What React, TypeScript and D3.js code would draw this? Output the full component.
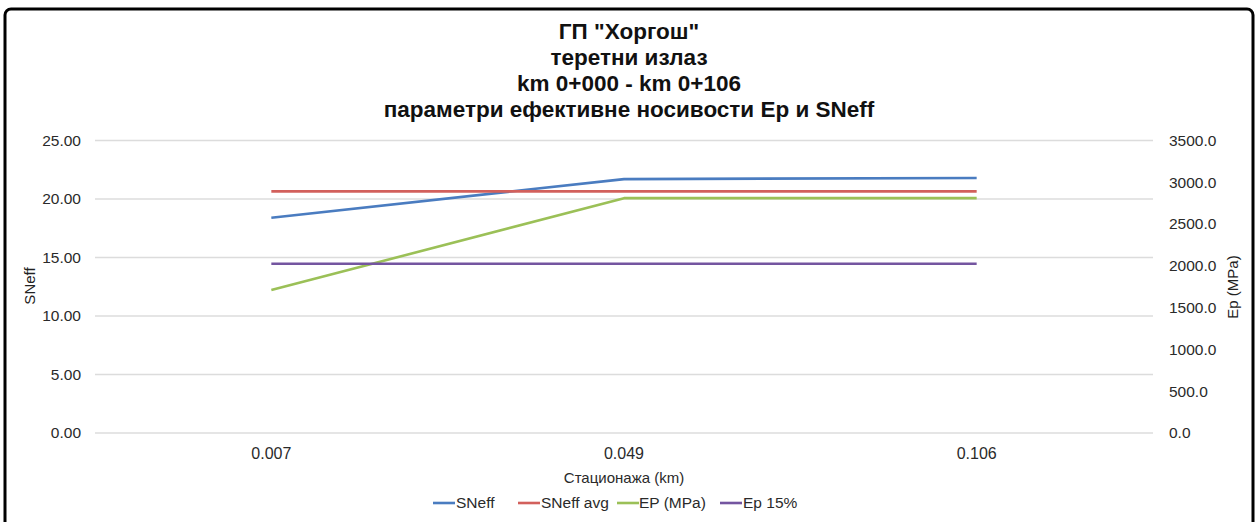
import React from "react";
import * as d3 from "d3";

const categories = ["0.007", "0.049", "0.106"];
const sneff = [18.4, 21.7, 21.8];
const sneffAvg = [20.65, 20.65, 20.65];
const epMPa = [1710, 2810, 2810];
const ep15 = [2025, 2025, 2025];
const leftTicks = [0, 5, 10, 15, 20, 25];
const rightTicks = [0, 500, 1000, 1500, 2000, 2500, 3000, 3500];
const titleLines = [
  'ГП "Хоргош"',
  "теретни излаз",
  "km 0+000 - km 0+106",
  "параметри ефективне носивости Ep и SNeff",
];

const W = 1259;
const H = 522;
const FONT = "'Liberation Sans', Arial, sans-serif";

export default function App() {
  const x = d3.scalePoint<string>().domain(categories).range([95, 1153]).padding(0.5);
  const yL = d3.scaleLinear().domain([0, 25]).range([433, 140.5]);
  const yR = d3.scaleLinear().domain([0, 3500]).range([433, 140.5]);

  const series = [
    { name: "SNeff", values: sneff, y: yL, color: "#4a7cc0" },
    { name: "SNeff avg", values: sneffAvg, y: yL, color: "#d2605c" },
    { name: "EP (MPa)", values: epMPa, y: yR, color: "#9bc057" },
    { name: "Ep 15%", values: ep15, y: yR, color: "#7455a0" },
  ];

  const legendPos = [
    { lx: 433, tx: 456 },
    { lx: 518, tx: 541 },
    { lx: 617, tx: 639 },
    { lx: 720, tx: 743 },
  ];

  return (
    <svg
      width={W}
      height={H}
      style={{ position: "absolute", left: 0, top: 0, background: "#fff" }}
      fontFamily={FONT}
    >
      <rect x={0} y={0} width={W} height={H} fill="#fff" />
      <rect x={5} y={9} width={1248} height={540} rx={6} fill="#fff" stroke="#000" strokeWidth={3} />
      {titleLines.map((t, i) => (
        <text
          key={i}
          x={629}
          y={39 + i * 26}
          textAnchor="middle"
          fontSize={22.5}
          fontWeight="bold"
          fill="#111"
        >
          {t}
        </text>
      ))}
      {leftTicks.map((t) => (
        <g key={"g" + t}>
          <line x1={95} x2={1153} y1={yL(t)} y2={yL(t)} stroke="#dcdcdc" strokeWidth={1.3} />
          <text x={81} y={yL(t)} dy="0.35em" textAnchor="end" fontSize={15.5} fill="#2a2a2a">
            {d3.format(".2f")(t)}
          </text>
        </g>
      ))}
      {rightTicks.map((t) => (
        <text key={"r" + t} x={1169} y={yR(t)} dy="0.35em" textAnchor="start" fontSize={15.5} fill="#2a2a2a">
          {d3.format(".1f")(t)}
        </text>
      ))}
      {categories.map((c) => (
        <text key={c} x={x(c)} y={453} dy="0.35em" textAnchor="middle" fontSize={16} fill="#2a2a2a">
          {c}
        </text>
      ))}
      <text x={624} y={478} dy="0.35em" textAnchor="middle" fontSize={15} fill="#2a2a2a">
        Стационажа (km)
      </text>
      <text
        transform={`translate(30,${286}) rotate(-90)`}
        textAnchor="middle"
        dy="0.35em"
        fontSize={15}
        fill="#222"
      >
        SNeff
      </text>
      <text
        transform={`translate(1233,${287}) rotate(-90)`}
        textAnchor="middle"
        dy="0.35em"
        fontSize={15}
        fill="#222"
      >
        Ep (MPa)
      </text>
      {series.map((s) => {
        const line = d3
          .line<number>()
          .x((_, i) => x(categories[i]) as number)
          .y((d) => s.y(d));
        return (
          <path
            key={s.name}
            d={line(s.values) || ""}
            fill="none"
            stroke={s.color}
            strokeWidth={2.6}
            strokeLinejoin="round"
          />
        );
      })}
      {series.map((s, i) => (
        <g key={"l" + s.name}>
          <line x1={legendPos[i].lx} x2={legendPos[i].lx + 22} y1={503} y2={503} stroke={s.color} strokeWidth={2.6} />
          <text x={legendPos[i].tx} y={503} dy="0.35em" fontSize={15.5} fill="#2a2a2a">
            {s.name}
          </text>
        </g>
      ))}
    </svg>
  );
}
